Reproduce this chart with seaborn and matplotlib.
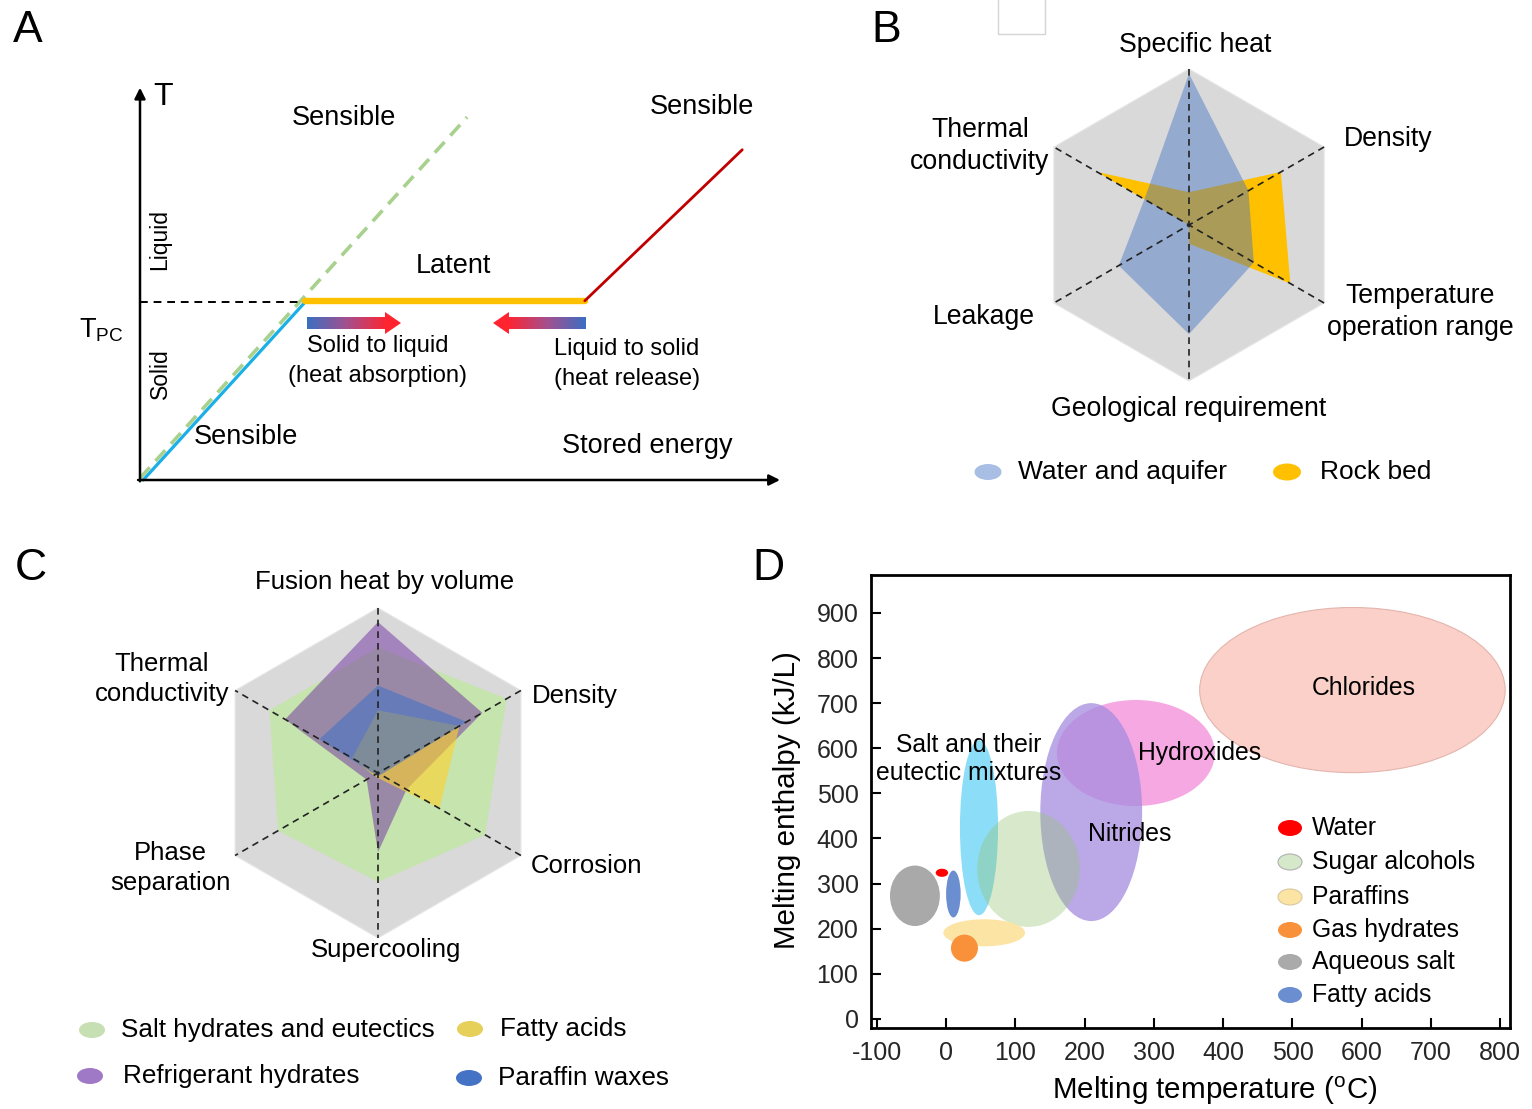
import numpy as np
import matplotlib
matplotlib.use("Agg")
import matplotlib.pyplot as plt
import seaborn as sns
from matplotlib.patches import Ellipse, Polygon, Rectangle
from matplotlib.colors import LinearSegmentedColormap

# ---------------- data ----------------
# Panel A: schematic temperature vs stored energy
solid_E = [0.05, 2.58]
solid_T = [0.0, 2.78]
ideal_E = [0.0, 5.11]
ideal_T = [0.03, 5.67]
latent_E = [2.58, 6.95]
latent_T = [2.80, 2.80]
liquid_E = [6.95, 9.41]
liquid_T = [2.80, 5.16]
tpc_E = [0.0, 2.58]
tpc_T = [2.78, 2.78]

# Panel B: radar (order: top, then clockwise)
b_labels = ["Specific heat", "Density", "Temperature\noperation range",
            "Geological requirement", "Leakage", "Thermal\nconductivity"]
water_aquifer = [0.97, 0.44, 0.48, 0.70, 0.52, 0.33]
rock_bed = [0.21, 0.68, 0.75, 0.12, 0.0, 0.68]

# Panel C: radar
c_labels = ["Fusion heat by volume", "Density", "Corrosion", "Supercooling",
            "Phase\nseparation", "Thermal\nconductivity"]
salt_hydrates = [0.76, 0.90, 0.75, 0.66, 0.70, 0.76]
refrigerant_hydrates = [0.915, 0.73, 0.20, 0.48, 0.08, 0.65]
fatty_acids_c = [0.38, 0.57, 0.43, 0.03, 0.03, 0.18]
paraffin_waxes = [0.53, 0.62, 0.02, 0.02, 0.02, 0.41]

# Panel D: PCM classes, melting temperature (degC) and enthalpy (kJ/L) ranges
pcm_names = ["Chlorides", "Hydroxides", "Nitrides", "Salt and their eutectic mixtures",
             "Sugar alcohols", "Aqueous salt", "Water", "Fatty acids", "Paraffins", "Gas hydrates"]
temp_min = [366, 160, 136, 20, 45, -81, -15, 0, -4, 7]
temp_max = [807, 388, 283, 75, 193, -9, 3, 21, 114, 46]
enth_min = [546, 472, 217, 230, 204, 206, 315, 225, 161, 127]
enth_max = [912, 707, 700, 618, 461, 340, 333, 329, 221, 187]
d_xticks = [-100, 0, 100, 200, 300, 400, 500, 600, 700, 800]
d_yticks = [0, 100, 200, 300, 400, 500, 600, 700, 800, 900]
d_legend = ["Water", "Sugar alcohols", "Paraffins", "Gas hydrates", "Aqueous salt", "Fatty acids"]

# ---------------- style ----------------
sns.set_theme(style="white")
plt.rcParams['font.family'] = ['Liberation Sans', 'DejaVu Sans']
plt.rcParams['mathtext.fontset'] = 'custom'
plt.rcParams['mathtext.rm'] = 'Liberation Sans'
plt.rcParams['mathtext.it'] = 'Liberation Sans:italic'

W, H = 1532, 1109
fig = plt.figure(figsize=(W / 100, H / 100), dpi=100)
fig.patch.set_facecolor('white')


def add_ax(x0, y0, x1, y1, **kw):
    return fig.add_axes([x0 / W, 1 - y1 / H, (x1 - x0) / W, (y1 - y0) / H], **kw)


# ---------------- Panel A ----------------
S = 64.0
axA = add_ax(60, 60, 800, 500)
axA.axis('off')
sns.lineplot(x=ideal_E, y=ideal_T, ax=axA, color='#A9D18E', lw=2.6,
             linestyle=(0, (4, 2.4)), sort=False, estimator=None, zorder=2)
sns.lineplot(x=solid_E, y=solid_T, ax=axA, color='#1AAFE6', lw=2.3,
             sort=False, estimator=None, zorder=3)
sns.lineplot(x=latent_E, y=latent_T, ax=axA, color='#FFC000', lw=4.6,
             sort=False, estimator=None, zorder=3)
sns.lineplot(x=liquid_E, y=liquid_T, ax=axA, color='#C00000', lw=2.0,
             sort=False, estimator=None, zorder=3)
sns.lineplot(x=tpc_E, y=tpc_T, ax=axA, color='black', lw=1.4,
             linestyle=(0, (4, 3)), sort=False, estimator=None, zorder=2)
axA.annotate('', xy=(10.0, 0), xytext=(-0.03, 0),
             arrowprops=dict(arrowstyle='-|>', color='black', lw=1.8, mutation_scale=16,
                             shrinkA=0, shrinkB=0))
axA.annotate('', xy=(0, 6.13), xytext=(0, -0.02),
             arrowprops=dict(arrowstyle='-|>', color='black', lw=1.8, mutation_scale=16,
                             shrinkA=0, shrinkB=0))
grad = np.linspace(0, 1, 256).reshape(1, -1)
cm1 = LinearSegmentedColormap.from_list('g1', ['#3B6FC2', '#A4508E', '#FF2430'])
cm2 = LinearSegmentedColormap.from_list('g2', ['#FF2430', '#A4508E', '#3B6FC2'])
axA.imshow(grad, extent=[(307 - 140) / S, (386 - 140) / S, (480 - 329) / S, (480 - 317) / S],
           cmap=cm1, aspect='auto', zorder=3)
axA.add_patch(Polygon([[(385 - 140) / S, (480 - 312) / S], [(401 - 140) / S, (480 - 323) / S],
                       [(385 - 140) / S, (480 - 334) / S]], closed=True, color='#FF2430', lw=0, zorder=3))
axA.imshow(grad, extent=[(508 - 140) / S, (585 - 140) / S, (480 - 329) / S, (480 - 317) / S],
           cmap=cm2, aspect='auto', zorder=3)
axA.add_patch(Polygon([[(509 - 140) / S, (480 - 312) / S], [(493 - 140) / S, (480 - 323) / S],
                       [(509 - 140) / S, (480 - 334) / S]], closed=True, color='#FF2430', lw=0, zorder=3))
axA.set_xlim((60 - 140) / S, (800 - 140) / S)
axA.set_ylim((480 - 500) / S, (480 - 60) / S)

# ---------------- radar helpers ----------------
angles = np.deg2rad([90, 30, -30, -90, -150, 150])


def radar_axes(cx, cy, R, half):
    ax = add_ax(cx - half, cy - half, cx + half, cy + half)
    lim = half / R
    ax.set_xlim(-lim, lim)
    ax.set_ylim(-lim, lim)
    ax.axis('off')
    hx, hy = np.cos(angles), np.sin(angles)
    ax.fill(hx, hy, color='#D9D9D9', lw=0.8, ec='#E6E6E6', zorder=0)
    for i in range(3):
        ax.plot([hx[i], hx[i + 3]], [hy[i], hy[i + 3]], color='#222222', lw=1.2,
                ls=(0, (4, 3)), zorder=10)
    return ax


def radar_poly(ax, vals, color, alpha, z):
    v = np.asarray(vals, dtype=float)
    ax.fill(v * np.cos(angles), v * np.sin(angles), color=color, alpha=alpha, lw=0, zorder=z)


# ---------------- Panel B ----------------
axB = radar_axes(1189, 225, 156, 175)
radar_poly(axB, rock_bed, '#FFC000', 1.0, 2)
radar_poly(axB, water_aquifer, '#4472C4', 0.45, 3)

# ---------------- Panel C ----------------
axC = radar_axes(378, 773, 165, 185)
radar_poly(axC, salt_hydrates, '#C6E4AE', 1.0, 2)
radar_poly(axC, refrigerant_hydrates, '#7030A0', 0.5, 3)
radar_poly(axC, fatty_acids_c, '#FFD22A', 0.6, 4)
radar_poly(axC, paraffin_waxes, '#4472C4', 0.6, 5)

# ---------------- Panel D ----------------
axD = add_ax(871, 575, 1510, 1028)
d_style = {
    "Chlorides": ('#FAD0C9', 1.0, 1, '#E3B5AD'),
    "Hydroxides": ('#F6A8E2', 1.0, 2, 'none'),
    "Nitrides": ('#A58BE0', 0.75, 3, 'none'),
    "Salt and their eutectic mixtures": ('#8BDDF8', 1.0, 4, 'none'),
    "Sugar alcohols": ('#96C578', 0.38, 5, 'none'),
    "Aqueous salt": ('#A9A9A9', 1.0, 5, 'none'),
    "Water": ('#FF0000', 1.0, 6, 'none'),
    "Fatty acids": ('#6A8ED0', 1.0, 6, 'none'),
    "Paraffins": ('#FCE4A4', 1.0, 6, 'none'),
    "Gas hydrates": ('#F8913A', 1.0, 7, 'none'),
}
for n, t0, t1, e0, e1 in zip(pcm_names, temp_min, temp_max, enth_min, enth_max):
    fc, a, z, ec = d_style[n]
    axD.add_patch(Ellipse(((t0 + t1) / 2, (e0 + e1) / 2), t1 - t0, e1 - e0,
                          facecolor=fc, alpha=a, edgecolor=ec, lw=0.8, zorder=z))
axD.set_xlim(-108.4, 814)
axD.set_ylim(-20, 984)
axD.set_xticks(d_xticks)
axD.set_yticks(d_yticks)
axD.set_xticklabels([str(v) for v in d_xticks])
axD.set_yticklabels([str(v) for v in d_yticks])
axD.tick_params(direction='in', length=7, width=1.5, labelsize=18, color='black',
                bottom=True, left=True, pad=9)
for sp in axD.spines.values():
    sp.set_visible(True)
    sp.set_color('black')
    sp.set_linewidth(2)

# ---------------- overlay (text, legends) in pixel coords ----------------
ov = fig.add_axes([0, 0, 1, 1], zorder=20)
ov.set_xlim(0, W)
ov.set_ylim(H, 0)
ov.axis('off')
ov.patch.set_alpha(0)


def T(x, y, s, size=19.2, ha='center', va='center', **kw):
    ov.text(x, y, s, fontsize=size, ha=ha, va=va, color='black', **kw)


# panel letters
T(28, 30, "A", size=32)
T(886, 30, "B", size=32)
T(31, 569, "C", size=32)
T(768, 568, "D", size=32)

# Panel A text
T(163, 97, "T", size=23)
T(101, 330, r"T$_{\mathrm{PC}}$", size=19.5)
T(160, 240, "Liquid", size=16.5, rotation=90)
T(160, 374, "Solid", size=16.5, rotation=90)
T(344, 118, "Sensible", size=19.5)
T(702, 107, "Sensible", size=19.5)
T(453, 266, "Latent", size=19.5)
T(246, 437, "Sensible", size=19.5)
T(647, 446, "Stored energy", size=19.5)
T(378, 361, "Solid to liquid\n(heat absorption)", size=17, linespacing=1.42)
T(627, 364, "Liquid to solid\n(heat release)", size=17, linespacing=1.42)

# Panel B text
T(1195, 45, b_labels[0])
T(1388, 139, b_labels[1])
T(1420, 312, b_labels[2], linespacing=1.3)
T(1189, 409, b_labels[3])
T(984, 317, b_labels[4])
T(980, 146, b_labels[5], linespacing=1.3)
ov.add_patch(Ellipse((988, 472), 27, 16, facecolor='#A9BEE5', lw=0))
T(1018, 472, "Water and aquifer", size=19, ha='left')
ov.add_patch(Ellipse((1287, 472), 28, 17, facecolor='#FFC000', lw=0))
T(1320, 472, "Rock bed", size=19, ha='left')
ov.add_patch(Rectangle((998, -2), 47, 36, facecolor='white', edgecolor='#D5D5D5', lw=1))

# Panel C text
T(385, 582, c_labels[0], size=18.5)
T(575, 696, c_labels[1], size=18.5)
T(586, 866, c_labels[2], size=18.5)
T(386, 950, c_labels[3], size=18.5)
T(170, 868, c_labels[4], size=18.5, linespacing=1.3)
T(162, 679, c_labels[5], size=18.5, linespacing=1.3)
c_leg = [((92, 1030), '#C6E0B4', "Salt hydrates and eutectics", 121),
         ((470, 1029), '#E6D05A', "Fatty acids", 500),
         ((90, 1076), '#A079C6', "Refrigerant hydrates", 123),
         ((469, 1078), '#4472C4', "Paraffin waxes", 498)]
for (mx, my), col, lab, tx in c_leg:
    ov.add_patch(Ellipse((mx, my), 26, 16, facecolor=col, lw=0))
    T(tx, my, lab, size=18.8, ha='left')

# Panel D text
T(787, 800, "Melting enthalpy (kJ/L)", size=21.3, rotation=90)
T(1215, 1091, r"Melting temperature ($^{\mathrm{o}}$C)", size=21.3)
T(1364, 688, "Chlorides", size=17.8)
T(1200, 753, "Hydroxides", size=17.8)
T(1130, 834, "Nitrides", size=17.8)
T(969, 759, "Salt and their\neutectic mixtures", size=17.8, linespacing=1.2)
d_leg_style = {"Water": ('#FF0000', 'none'), "Sugar alcohols": ('#D5E8C9', '#B0B0B0'),
               "Paraffins": ('#FCE4A4', '#D8C8A0'), "Gas hydrates": ('#F8913A', 'none'),
               "Aqueous salt": ('#AAAAAA', 'none'), "Fatty acids": ('#6A8ED0', 'none')}
d_leg_y = [828, 862, 897, 930, 962, 995]
for lab, yy in zip(d_legend, d_leg_y):
    fc, ec = d_leg_style[lab]
    ov.add_patch(Ellipse((1290, yy), 24, 16, facecolor=fc, edgecolor=ec, lw=0.8))
    T(1312, yy, lab, size=17.8, ha='left')

fig.savefig("out.png", dpi=100, facecolor='white')
